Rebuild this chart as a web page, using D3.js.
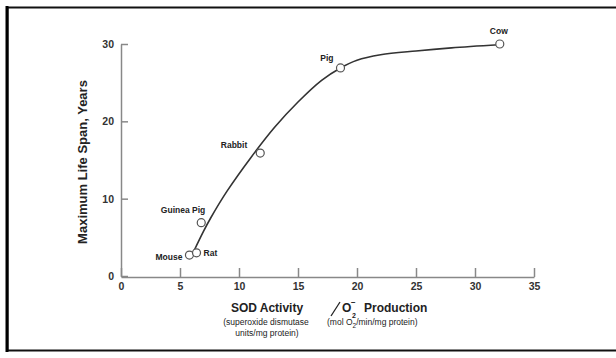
<!DOCTYPE html>
<html>
<head>
<meta charset="utf-8">
<script src="https://cdn.jsdelivr.net/npm/d3@7"></script>
<style>
  body { margin: 0; background: #fff; }
  svg text { font-family: "Liberation Sans", Arial, sans-serif; fill: #222; }
  .axis path, .axis line { stroke: #888; stroke-width: 1.5; }
  .axis text { font-size: 10.5px; font-weight: bold; fill: #333; }
</style>
</head>
<body>
<div id="chart"></div>
<script>
// animals
var animals = ["Mouse", "Rat", "Guinea Pig", "Rabbit", "Pig", "Cow"];
var sod_ratio = [5.8, 6.4, 6.8, 11.8, 18.6, 32.1];
var life_span = [2.7, 3.0, 6.9, 15.9, 26.9, 30.0];

// fitted curve drawn through the points
var curve_x = [6.2, 7.0, 7.6, 9.0, 11.0, 13.0, 15.0, 17.0, 18.6, 20.0, 22.0, 25.0, 28.0, 32.0];
var curve_y = [3.3, 5.8, 7.5, 11.0, 15.3, 19.2, 22.5, 25.3, 26.9, 27.9, 28.6, 29.1, 29.5, 29.9];

var x_ticks = [0, 5, 10, 15, 20, 25, 30, 35];
var y_ticks = [0, 10, 20, 30];

// label placement relative to each point
var label_pos = {
  "Mouse":      {dx: -7,  dy: 5,   anchor: "end"},
  "Rat":        {dx: 7,   dy: 3,   anchor: "start"},
  "Guinea Pig": {dx: 4,   dy: -10, anchor: "end"},
  "Rabbit":     {dx: -13, dy: -5,  anchor: "end"},
  "Pig":        {dx: -7,  dy: -7,  anchor: "end"},
  "Cow":        {dx: -1,  dy: -10, anchor: "middle"}
};

var width = 616, height = 358;
var margin = {top: 44, right: 82, bottom: 82, left: 121};

var svg = d3.select("#chart")
  .append("svg")
  .attr("width", width)
  .attr("height", height);

// frame
svg.append("rect")
  .attr("x", 7.5).attr("y", 7.5)
  .attr("width", 620).attr("height", 343)
  .attr("fill", "none")
  .attr("stroke", "#111")
  .attr("stroke-width", 2);
svg.append("line")
  .attr("x1", 7).attr("x2", 7).attr("y1", 6).attr("y2", 352)
  .attr("stroke", "#000").attr("stroke-width", 3);

var xScale = d3.scaleLinear()
  .domain([0, 35])
  .range([margin.left, width - margin.right]);

var yScale = d3.scaleLinear()
  .domain([0, 30])
  .range([height - margin.bottom, margin.top]);

// axes
svg.append("g")
  .attr("class", "axis")
  .attr("transform", "translate(0," + (yScale(0) + 1) + ")")
  .call(d3.axisBottom(xScale)
    .tickValues(x_ticks)
    .tickSizeInner(-9)
    .tickSizeOuter(0)
    .tickPadding(6));

svg.append("g")
  .attr("class", "axis")
  .attr("transform", "translate(" + xScale(0) + ",0)")
  .call(d3.axisLeft(yScale)
    .tickValues(y_ticks)
    .tickSizeInner(-7)
    .tickSizeOuter(0)
    .tickPadding(7));

// curve
var pts = curve_x.map(function(d, i) { return [d, curve_y[i]]; });
svg.append("path")
  .datum(pts)
  .attr("fill", "none")
  .attr("stroke", "#333")
  .attr("stroke-width", 1.6)
  .attr("d", d3.line()
    .x(function(d) { return xScale(d[0]); })
    .y(function(d) { return yScale(d[1]); })
    .curve(d3.curveCatmullRom));

// points
var data = animals.map(function(a, i) {
  return {name: a, x: sod_ratio[i], y: life_span[i]};
});

svg.selectAll(".pt")
  .data(data)
  .enter()
  .append("circle")
  .attr("class", "pt")
  .attr("cx", function(d) { return xScale(d.x); })
  .attr("cy", function(d) { return yScale(d.y); })
  .attr("r", 4)
  .attr("fill", "#fff")
  .attr("stroke", "#555")
  .attr("stroke-width", 1.2);

svg.selectAll(".lbl")
  .data(data)
  .enter()
  .append("text")
  .attr("class", "lbl")
  .attr("x", function(d) { return xScale(d.x) + label_pos[d.name].dx; })
  .attr("y", function(d) { return yScale(d.y) + label_pos[d.name].dy; })
  .attr("text-anchor", function(d) { return label_pos[d.name].anchor; })
  .style("font-size", "8.5px")
  .style("font-weight", "bold")
  .text(function(d) { return d.name; });

// y title
svg.append("text")
  .attr("transform", "translate(87,162) rotate(-90)")
  .attr("text-anchor", "middle")
  .style("font-size", "13px")
  .style("font-weight", "bold")
  .text("Maximum Life Span, Years");

// x title
var ty = 312;
svg.append("text")
  .attr("x", 267).attr("y", ty)
  .attr("text-anchor", "middle")
  .style("font-size", "12px")
  .style("font-weight", "bold")
  .text("SOD Activity");

svg.append("line")
  .attr("x1", 331).attr("y1", ty + 4)
  .attr("x2", 340).attr("y2", ty - 10)
  .attr("stroke", "#222").attr("stroke-width", 1.3);

svg.append("text")
  .attr("x", 342).attr("y", ty)
  .style("font-size", "12px")
  .style("font-weight", "bold")
  .text("O");
svg.append("text")
  .attr("x", 351).attr("y", ty - 7)
  .style("font-size", "8px")
  .style("font-weight", "bold")
  .text("\u2212");
svg.append("text")
  .attr("x", 352).attr("y", ty + 6)
  .style("font-size", "7px")
  .style("font-weight", "bold")
  .text("2");
svg.append("text")
  .attr("x", 364).attr("y", ty)
  .style("font-size", "12px")
  .style("font-weight", "bold")
  .text("Production");

svg.append("text")
  .attr("x", 266).attr("y", ty + 13)
  .attr("text-anchor", "middle")
  .style("font-size", "8.5px")
  .text("(superoxide dismutase");
svg.append("text")
  .attr("x", 267).attr("y", ty + 24)
  .attr("text-anchor", "middle")
  .style("font-size", "8.5px")
  .text("units/mg protein)");

var sub = svg.append("text")
  .attr("x", 327).attr("y", ty + 13)
  .style("font-size", "8.5px");
sub.append("tspan").text("(mol O");
sub.append("tspan").attr("dy", 3).style("font-size", "6.5px").text("2");
sub.append("tspan").attr("dy", -3).text("/min/mg protein)");
</script>
</body>
</html>
